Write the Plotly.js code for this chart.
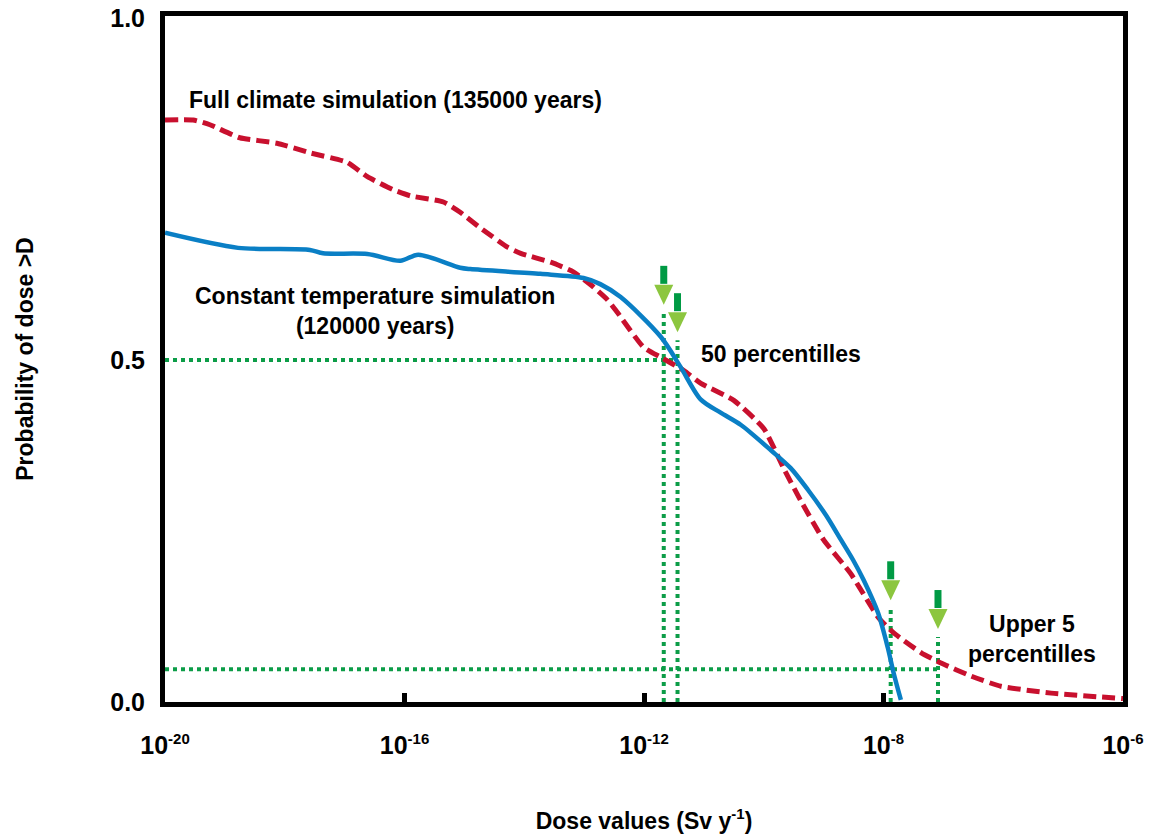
<!DOCTYPE html>
<html>
<head>
<meta charset="utf-8">
<script src="https://cdn.plot.ly/plotly-3.0.1.min.js"></script>
<style>html,body{margin:0;padding:0;background:#fff;}#chart{width:1155px;height:837px;}</style>
</head>
<body>
<div id="chart"></div>
<script>
// Full climate simulation (135000 years): dose (Sv/y) vs probability of dose > D
const fullDose = [1e-20, 10**-19.53, 10**-19.25, 10**-18.75, 10**-18.13, 10**-17.58, 10**-16.96, 10**-16.62, 10**-16.19, 10**-15.90, 10**-15.35, 10**-15.07, 10**-14.73, 10**-14.28, 10**-14.06, 10**-13.56, 10**-13.18, 10**-12.89, 10**-12.61, 10**-12.44, 10**-12.01, 10**-11.72, 10**-11.34, 10**-11.05, 10**-10.50, 10**-10.00, 10**-9.67, 10**-9.38, 10**-9.00, 10**-8.55, 10**-8.09, 10**-7.83, 10**-7.37, 10**-7.04, 10**-6.54, 10**-6.04, 10**-5.20, 1e-4];
const fullProb = [0.851, 0.851, 0.844, 0.825, 0.817, 0.803, 0.789, 0.768, 0.749, 0.740, 0.731, 0.716, 0.693, 0.665, 0.656, 0.643, 0.629, 0.610, 0.588, 0.569, 0.519, 0.504, 0.485, 0.466, 0.441, 0.400, 0.342, 0.294, 0.237, 0.188, 0.124, 0.101, 0.072, 0.057, 0.038, 0.023, 0.013, 0.005];

// Constant temperature simulation (120000 years)
const constDose = [1e-20, 10**-18.78, 10**-17.58, 10**-17.36, 10**-16.62, 10**-16.07, 10**-15.77, 10**-15.07, 10**-14.90, 10**-13.73, 10**-13.01, 10**-12.73, 10**-12.39, 10**-11.72, 10**-11.39, 10**-11.05, 10**-10.72, 10**-10.38, 10**-9.88, 10**-9.55, 10**-9.26, 10**-8.96, 10**-8.71, 10**-8.51, 10**-8.33, 10**-8.09, 10**-7.93, 10**-7.83, 10**-7.71];
const constProb = [0.686, 0.664, 0.661, 0.656, 0.655, 0.645, 0.654, 0.635, 0.633, 0.626, 0.620, 0.611, 0.592, 0.534, 0.490, 0.442, 0.423, 0.405, 0.368, 0.342, 0.310, 0.273, 0.237, 0.208, 0.178, 0.130, 0.080, 0.042, 0.003];

// Percentile markers
const medianLevel = 0.5;
const upperLevel = 0.048;
const medianDose = [10**-11.67, 10**-11.44];
const medianTop = [0.569, 0.529];
const upperDose = [10**-7.88, 10**-7.09];
const upperTop = [0.137, 0.095];

const xTickVals = [1e-20, 1e-16, 1e-12, 1e-8, 1e-4];
const xTickExp = ['-20', '-16', '-12', '-8', '-6'];
const yTickVals = [0, 0.5, 1.0];
const yTickText = ['0.0', '0.5', '1.0'];

const FONT = 'Liberation Sans, Arial, sans-serif';
const DOT_GREEN = '#0c9d48';
const SHAFT_GREEN = '#009a44';
const HEAD_GREEN = '#8cc63f';

const xTickText = xTickExp.map(e => '10<sup><span style="font-size:15px">' + e + '</span></sup>');

// pixel-based style sizes converted to data units
const plotW = 958, decades = 16;
const pxToDec = decades / plotW, pxToP = 1.0 / 684;

const traces = [];
const allDose = medianDose.concat(upperDose);
const allTop = medianTop.concat(upperTop);

// horizontal dotted lines
traces.push({x: [1e-20, medianDose[1]], y: [medianLevel, medianLevel], mode: 'lines',
  line: {color: DOT_GREEN, width: 4, dash: 'dot'}, hoverinfo: 'skip', showlegend: false});
traces.push({x: [1e-20, upperDose[1]], y: [upperLevel, upperLevel], mode: 'lines',
  line: {color: DOT_GREEN, width: 4, dash: 'dot'}, hoverinfo: 'skip', showlegend: false});
// vertical dotted lines
allDose.forEach((d, i) => {
  traces.push({x: [d, d], y: [0, allTop[i]], mode: 'lines',
    line: {color: DOT_GREEN, width: 4, dash: 'dot'}, hoverinfo: 'skip', showlegend: false});
});

// curves
traces.push({x: fullDose, y: fullProb, mode: 'lines', name: 'Full climate simulation (135000 years)',
  line: {color: '#c8102e', width: 5, dash: '13px,6px', shape: 'spline', smoothing: 0.5}, showlegend: false});
traces.push({x: constDose, y: constProb, mode: 'lines', name: 'Constant temperature simulation (120000 years)',
  line: {color: '#0a7fc5', width: 4.5, shape: 'spline', smoothing: 0.8}, showlegend: false});

// arrows
allDose.forEach((d, i) => {
  const tipP = allTop[i] + 8 * pxToP;
  const headTopP = tipP + 20 * pxToP;
  const shaftTopP = headTopP + 19 * pxToP;
  const lx = Math.log10(d);
  const hw = 9.5 * pxToDec;
  traces.push({x: [d, d], y: [headTopP + 1 * pxToP, shaftTopP], mode: 'lines',
    line: {color: SHAFT_GREEN, width: 7}, hoverinfo: 'skip', showlegend: false});
  traces.push({x: [10 ** (lx - hw), 10 ** (lx + hw), d, 10 ** (lx - hw)], y: [headTopP, headTopP, tipP, headTopP],
    mode: 'lines', fill: 'toself', fillcolor: HEAD_GREEN, line: {width: 0, color: HEAD_GREEN},
    hoverinfo: 'skip', showlegend: false});
});

const annFont = {family: FONT, size: 23, color: '#000', weight: 700};
const layout = {
  width: 1155, height: 837,
  margin: {l: 165, r: 32, t: 16, b: 135},
  paper_bgcolor: '#fff', plot_bgcolor: '#fff',
  showlegend: false,
  font: {family: FONT, color: '#000'},
  xaxis: {
    type: 'log', range: [-20, -4], showgrid: false, zeroline: false,
    showline: true, linecolor: '#000', linewidth: 5, mirror: true,
    ticks: 'inside', ticklen: 9, tickwidth: 5, tickcolor: '#000',
    tickvals: xTickVals, ticktext: xTickText, ticklabelstandoff: 17,
    tickfont: {family: FONT, size: 25, weight: 700, color: '#000'},
    title: {text: 'Dose values (Sv y<sup><span style="font-size:15px">-1</span></sup>)', font: {family: FONT, size: 23, weight: 700, color: '#000'}, standoff: 56}
  },
  yaxis: {
    range: [0, 1.003], showgrid: false, zeroline: false,
    showline: true, linecolor: '#000', linewidth: 5, mirror: true,
    ticks: '', tickvals: yTickVals, ticktext: yTickText, ticklabelstandoff: 10,
    tickfont: {family: FONT, size: 25, weight: 700, color: '#000'},
    title: {text: 'Probability of dose >D', font: {family: FONT, size: 23, weight: 700, color: '#000'}, standoff: 72}
  },
  annotations: [
    {x: -16.15, y: 0.880, xref: 'x', yref: 'y', text: 'Full climate simulation (135000 years)', showarrow: false, font: annFont},
    {x: -16.49, y: 0.572, xref: 'x', yref: 'y', text: 'Constant temperature simulation<br>(120000 years)', showarrow: false, font: annFont},
    {x: -9.72, y: 0.509, xref: 'x', yref: 'y', text: '50 percentilles', showarrow: false, font: annFont},
    {x: -5.52, y: 0.092, xref: 'x', yref: 'y', text: 'Upper 5<br>percentilles', showarrow: false, font: annFont}
  ]
};

Plotly.newPlot('chart', traces, layout, {displayModeBar: false, staticPlot: true});
</script>
</body>
</html>
